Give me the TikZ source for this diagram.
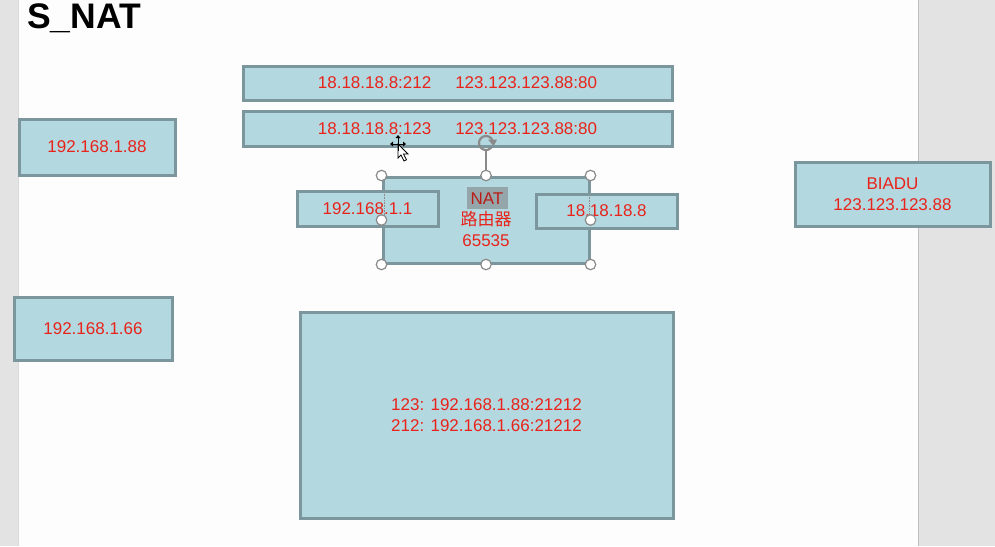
\documentclass[tikz,border=0pt]{standalone}
\usepackage{fontspec}
\setmainfont{Liberation Sans}
\newfontfamily\cjk{Noto Sans CJK SC}
\definecolor{graybg}{HTML}{E3E3E3}
\definecolor{slide}{HTML}{FDFDFD}
\definecolor{boxfill}{HTML}{B4D8E0}
\definecolor{boxline}{HTML}{7C969D}
\definecolor{txtred}{HTML}{E8231A}
\definecolor{hilite}{HTML}{95A6AB}
\definecolor{handle}{HTML}{8A8A8A}
\begin{document}
\begin{tikzpicture}[x=1pt,y=-1pt,
  box/.style={draw=boxline, fill=boxfill, line width=3pt, text=txtred,
    font=\fontsize{17}{20.5}\selectfont, inner sep=0pt, align=center},
  lbl/.style={text=txtred, font=\fontsize{17}{20.5}\selectfont, inner sep=0pt},
  hdl/.style={circle, draw=handle, fill=white, line width=1.2pt, minimum size=10.5pt, inner sep=0pt}]
\useasboundingbox (0,0) rectangle (995,546);
\fill[graybg] (0,0) rectangle (995,546);
\fill[slide] (18,0) rectangle (918,546);
\draw[black!25, line width=1pt] (918.5,0) -- (918.5,546);
\draw[black!15, line width=0.6pt] (18.3,0) -- (18.3,546);

\node[anchor=base west, inner sep=0pt, font=\fontsize{35.5}{40}\selectfont\bfseries] (title) at (27,28) {S\_NAT};

\node[box, minimum width=429pt, minimum height=34pt] (map1) at (457.5,83)
  {18.18.18.8:212\hspace{24pt}123.123.123.88:80};
\node[box, minimum width=429pt, minimum height=35pt] (map2) at (457.5,128.5)
  {18.18.18.8:123\hspace{24pt}123.123.123.88:80};

\node[box, minimum width=156pt, minimum height=56pt] (h88) at (97,147) {192.168.1.88};
\node[box, minimum width=158pt, minimum height=63pt] (h66) at (93,328.5) {192.168.1.66};

\node[box, minimum width=206pt, minimum height=86pt] (nat) at (486,220) {};
\fill[hilite] (467,187) rectangle (508,209);
\node[lbl, text=txtred!80!black] (natname) at (487,199) {NAT};
\node[lbl] (natrouter) at (486,219.5) {\cjk 路由器};
\node[lbl] (natport) at (486,240.5) {65535};

\node[box, minimum width=141pt, minimum height=35pt] (lan) at (367.5,208.5) {192.168.1.1};
\node[box, minimum width=141pt, minimum height=34pt] (wan) at (606.5,211) {18.18.18.8};

\node[box, minimum width=195pt, minimum height=64pt] (baidu) at (892.5,194) {BIADU\\123.123.123.88};

\node[box, minimum width=373pt, minimum height=206pt] (table) at (486.5,415)
  {123: 192.168.1.88:21212\\212: 192.168.1.66:21212};

% selection guides and handles
\draw[black!45, densely dotted, line width=0.6pt] (384,192) -- (384,215);
\draw[black!45, densely dotted, line width=0.6pt] (589,195) -- (589,215);
\coordinate (rot) at (486,143);
\draw[handle, line width=1.2pt] (486,151) -- (nat.north);
\draw[handle, line width=2.2pt] ([shift={(20:7pt)}]rot) arc[start angle=20, end angle=320, radius=7pt];
\fill[handle] ([shift={(20:7pt)}]rot) ++(-4.5,-1) -- ++(9,0) -- ++(-3.5,6.5) -- cycle;
\foreach \a in {north west, north, north east, west, east, south west, south, south east}
  \node[hdl] at (nat.\a) {};

% mouse cursor
\coordinate (cur) at (398,144);
\draw[black, line width=0.8pt, fill=white] (cur) -- ++(0,14) -- ++(3,-3) -- ++(3,6) -- ++(2.5,-1.2) -- ++(-3,-5.8) -- ++(4.5,0) -- cycle;
\draw[black, line width=0.9pt] (391,144) -- (405,144) (398,136) -- (398,151);
\fill[black] (390,144) -- ++(3,-2.5) -- ++(0,5) -- cycle;
\fill[black] (406,144) -- ++(-3,-2.5) -- ++(0,5) -- cycle;
\fill[black] (398,135) -- ++(-2.5,3) -- ++(5,0) -- cycle;
\end{tikzpicture}
\end{document}
